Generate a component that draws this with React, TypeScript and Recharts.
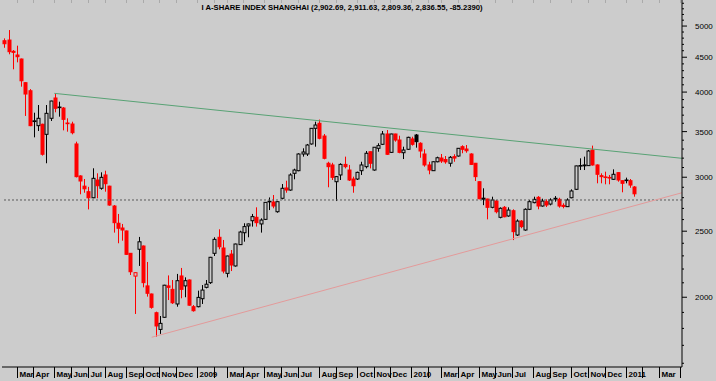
import React from 'react';
import { ComposedChart, Bar, XAxis, YAxis, ReferenceLine } from 'recharts';

const titleText = 'I A-SHARE INDEX SHANGHAI (2,902.69, 2,911.63, 2,809.36, 2,836.55, -85.2390)';

const opens = [
  4758, 4769, 4591, 4534, 4473, 4129, 4018, 3621, 3571, 3588, 3468, 3661, 3921, 3797, 3790, 3603, 3591, 3357, 3013, 2911,
  2857, 2799, 2972, 2890, 3023, 2911, 2722, 2568, 2527, 2502, 2320, 2148, 2352, 2378, 2078, 2022, 1898, 1794, 1869, 2078,
  2054, 1955, 2149, 2078, 2120, 1937, 1937, 1990, 2068, 2101, 2320, 2449, 2362, 2168, 2314, 2223, 2389, 2487, 2545, 2590,
  2620, 2562, 2602, 2762, 2759, 2670, 2794, 2893, 2873, 3040, 3067, 3245, 3245, 3357, 3539, 3600, 3448, 3145, 3127, 2955,
  3023, 3133, 3074, 2982, 2982, 3067, 3109, 3270, 3074, 3308, 3353, 3472, 3263, 3472, 3402, 3259, 3297, 3414, 3460, 3365,
  3245, 3127, 3067, 3161, 3201, 3185, 3145, 3216, 3223, 3326, 3300, 3245, 3145, 2955, 2785, 2787, 2710, 2768, 2620, 2710,
  2632, 2679, 2468, 2587, 2510, 2692, 2753, 2803, 2722, 2762, 2740, 2787, 2784, 2728, 2716, 2799, 2880, 3117, 3118, 3120,
  3289, 3127, 3016, 3003, 2998, 2979, 3047, 2965, 2967, 2965, 2902.69,
];
const highs = [
  4796, 4933, 4611, 4679, 4480, 4135, 4041, 3731, 3829, 3595, 3829, 3885, 3974, 3872, 3803, 3661, 3619, 3383, 3020, 2982,
  2904, 3092, 3040, 3050, 3067, 2915, 2731, 2650, 2562, 2505, 2322, 2175, 2452, 2382, 2253, 2025, 1905, 1877, 2086, 2153,
  2120, 2164, 2208, 2139, 2124, 1948, 2045, 2084, 2120, 2292, 2449, 2516, 2427, 2302, 2346, 2397, 2504, 2568, 2565, 2650,
  2710, 2611, 2759, 2802, 2825, 2765, 2932, 2965, 3040, 3088, 3253, 3308, 3357, 3543, 3619, 3645, 3472, 3161, 3150, 3013,
  3145, 3216, 3127, 3006, 3057, 3161, 3278, 3272, 3322, 3365, 3507, 3519, 3475, 3475, 3452, 3326, 3440, 3440, 3472, 3376,
  3297, 3161, 3165, 3216, 3245, 3223, 3223, 3242, 3311, 3342, 3345, 3253, 3148, 2958, 2890, 2790, 2809, 2778, 2710, 2722,
  2710, 2692, 2602, 2596, 2701, 2778, 2809, 2815, 2790, 2784, 2794, 2815, 2799, 2747, 2794, 2880, 3120, 3198, 3216, 3289,
  3338, 3133, 3040, 3057, 3023, 3081, 3050, 2968, 2996, 2982, 2911.63,
];
const lows = [
  4646, 4545, 4320, 4423, 4074, 3690, 3565, 3433, 3507, 3227, 3145, 3628, 3736, 3681, 3515, 3499, 3468, 2998, 2832, 2847,
  2691, 2795, 2794, 2876, 2857, 2725, 2488, 2400, 2421, 2308, 2156, 1890, 2223, 2068, 2004, 1924, 1750, 1767, 1866, 1981,
  1955, 1937, 1993, 2000, 1944, 1905, 1933, 1955, 2061, 2092, 2299, 2352, 2168, 2139, 2185, 2218, 2386, 2413, 2449, 2539,
  2539, 2488, 2596, 2685, 2701, 2661, 2784, 2847, 2866, 2979, 3061, 3216, 3223, 3349, 3326, 3410, 3187, 2900, 2972, 2768,
  2972, 3091, 2962, 2847, 2972, 3023, 3091, 3091, 3067, 3270, 3345, 3234, 3256, 3383, 3253, 3190, 3289, 3338, 3315, 3204,
  3109, 3030, 3064, 3155, 3148, 3140, 3109, 3161, 3216, 3253, 3259, 3127, 2962, 2785, 2730, 2602, 2701, 2655, 2611, 2620,
  2625, 2426, 2460, 2525, 2504, 2685, 2747, 2692, 2716, 2713, 2728, 2762, 2707, 2701, 2713, 2794, 2873, 3074, 3074, 3117,
  3120, 2939, 2939, 2929, 2929, 2972, 2955, 2851, 2939, 2895, 2809.36,
];
const closes = [
  4710, 4585, 4575, 4508, 4156, 3974, 3571, 3630, 3661, 3242, 3723, 3881, 3787, 3803, 3648, 3595, 3487, 3006, 2962, 2885,
  2799, 2989, 2915, 2999, 2935, 2731, 2573, 2525, 2510, 2312, 2180, 2173, 2412, 2101, 2027, 1933, 1815, 1831, 2083, 2068,
  1963, 2115, 2054, 2115, 1947, 1911, 1999, 2049, 2090, 2289, 2432, 2372, 2185, 2299, 2230, 2394, 2493, 2539, 2562, 2626,
  2573, 2596, 2756, 2766, 2722, 2762, 2890, 2873, 3023, 3074, 3245, 3267, 3345, 3539, 3579, 3422, 3198, 3109, 2999, 3006,
  3133, 3109, 2972, 2915, 3050, 3127, 3253, 3145, 3320, 3338, 3472, 3242, 3472, 3402, 3263, 3289, 3433, 3353, 3383, 3278,
  3127, 3074, 3161, 3204, 3169, 3160, 3209, 3201, 3308, 3297, 3281, 3133, 3006, 2790, 2795, 2710, 2778, 2670, 2701, 2625,
  2685, 2496, 2587, 2539, 2692, 2762, 2784, 2722, 2768, 2731, 2778, 2794, 2722, 2718, 2778, 2864, 3117, 3121, 3127, 3278,
  3127, 3030, 3006, 2999, 2992, 3030, 2972, 2939, 2972, 2921.79, 2836.55,
];

// month tick positions, as week (candle) numbers, and their labels
const monthTickIndex = [
  4, 8, 13, 17, 21, 25, 30, 34, 38, 42, 47, 51, 54, 58, 63, 67, 71, 76, 80, 85, 89, 93, 98, 102, 105, 109, 114, 118, 122,
  127, 131, 136, 140, 144, 149, 153, 157, 162,
];
const monthTickLabels = [
  'Mar', 'Apr', 'May', 'Jun', 'Jul', 'Aug', 'Sep', 'Oct', 'Nov', 'Dec', '2009', '', 'Mar', 'Apr', 'May', 'Jun', 'Jul', 'Aug',
  'Sep', 'Oct', 'Nov', 'Dec', '2010', '', 'Mar', 'Apr', 'May', 'Jun', 'Jul', 'Aug', 'Sep', 'Oct', 'Nov', 'Dec', '2011', '',
  'Mar', '',
];

const yTicks: number[] = [];
for (let v = 1600; v <= 5400; v += 100) yTicks.push(v);

// trend lines (week number, price)
const upperTrend = [
  { x: 12.98, y: 3983 },
  { x: 162.43, y: 3198 },
];
const lowerTrend = [
  { x: 36.17, y: 1747 },
  { x: 162.43, y: 2847 },
];
const refLevel = 2778;

const data = opens.map((o, k) => ({
  i: k + 1,
  o,
  h: highs[k],
  l: lows[k],
  c: closes[k],
  pc: k > 0 ? closes[k - 1] : null,
  range: [lows[k], highs[k]],
}));

const FONT = 'Liberation Sans, Arial, sans-serif';
const BG = '#cccccc';

const Candle = (props: any) => {
  const { x, y, width, height, payload } = props;
  if (!payload || x == null || y == null) return null;
  const { o, h, l, c, pc } = payload;
  const lh = Math.log(h);
  const ll = Math.log(l);
  const py = (v: number) => (lh !== ll ? y + (height * (lh - Math.log(v))) / (lh - ll) : y);
  const cx = Math.round(x + width / 2) + 0.5;
  const up = pc == null ? c >= o : c >= pc;
  const color = up ? '#000000' : '#ff0000';
  const filled = c < o;
  const top = py(Math.max(o, c));
  const bot = py(Math.min(o, c));
  return (
    <g>
      <line x1={cx} x2={cx} y1={y} y2={y + height} stroke={color} strokeWidth={1} />
      <rect
        x={cx - 1.5}
        y={top}
        width={3}
        height={Math.max(bot - top, 0.6)}
        fill={filled ? color : BG}
        stroke={color}
        strokeWidth={1}
      />
    </g>
  );
};

const YTick = (props: any) => {
  const { x, y, payload } = props;
  const v = payload.value;
  const major = v % 500 === 0;
  return (
    <g>
      <line x1={x} x2={x + (major ? 5 : 2)} y1={y} y2={y} stroke="#000" strokeWidth={1} />
      {major && (
        <text x={x + 13} y={y + 3} fontSize={8} fontFamily={FONT} fill="#000">
          {v}
        </text>
      )}
    </g>
  );
};

const XTick = (props: any) => {
  const { x, y, payload } = props;
  const idx = monthTickIndex.indexOf(payload.value);
  const label = idx >= 0 ? monthTickLabels[idx] : '';
  const px = Math.round(x) + 0.5;
  return (
    <g>
      <line x1={px} x2={px} y1={y} y2={y + 11} stroke="#000" strokeWidth={1} />
      <line x1={px} x2={px} y1={0} y2={3} stroke="#aaaaaa" strokeWidth={1} />
      {label && (
        <text x={px + 2} y={y + 9.5} fontSize={8} fontWeight="bold" fontFamily={FONT} fill="#000">
          {label}
        </text>
      )}
    </g>
  );
};

export default function App() {
  return (
    <div style={{ position: 'fixed', left: 0, top: 0, width: 716, height: 381, background: BG }}>
      <ComposedChart
        width={716}
        height={381}
        data={data}
        margin={{ top: 0, right: 0, bottom: 0, left: 2 }}
      >
        <XAxis
          dataKey="i"
          type="number"
          domain={[0.52, 162.43]}
          allowDataOverflow
          ticks={monthTickIndex}
          interval={0}
          height={14}
          tickSize={0}
          tickMargin={0}
          tickLine={false}
          tick={<XTick />}
          axisLine={{ stroke: '#000' }}
        />
        <YAxis
          orientation="right"
          type="number"
          scale="log"
          domain={[1580, 5460]}
          allowDataOverflow
          ticks={yTicks}
          interval={0}
          width={34}
          tickSize={0}
          tickMargin={0}
          tickLine={false}
          tick={<YTick />}
          axisLine={{ stroke: '#000' }}
        />
        <ReferenceLine y={refLevel} stroke="#5a5a5a" strokeDasharray="2 2" />
        <ReferenceLine segment={upperTrend} stroke="#58a274" strokeWidth={1} ifOverflow="visible" />
        <ReferenceLine segment={lowerTrend} stroke="#e39a9a" strokeWidth={1} ifOverflow="visible" />
        <Bar dataKey="range" shape={Candle} isAnimationActive={false} barSize={3} />
      </ComposedChart>
      <svg
        width={716}
        height={16}
        style={{ position: 'absolute', left: 0, top: 0, pointerEvents: 'none' }}
      >
        <text
          x={201.5}
          y={10}
          fontSize={7.5}
          fontWeight="bold"
          fontFamily={FONT}
          fill="#000"
          textLength={281}
          lengthAdjust="spacingAndGlyphs"
        >
          {titleText}
        </text>
      </svg>
    </div>
  );
}
